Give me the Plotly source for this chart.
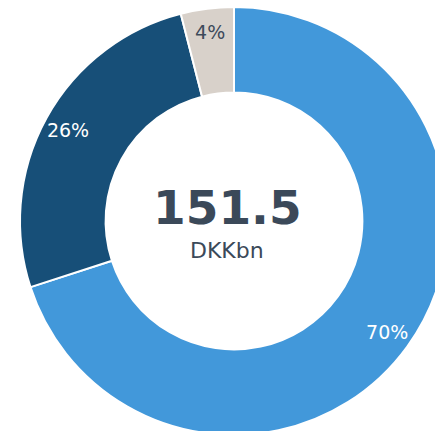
import plotly.graph_objects as go

categories = ["Segment A", "Segment B", "Segment C"]
shares = [70, 26, 4]
total_label = "151.5"
unit_label = "DKKbn"
colors = ["#4298da", "#174f78", "#d8d1ca"]
text_colors = ["#ffffff", "#ffffff", "#3d4a5a"]

W, H = 468, 442
cx, cy, R = 234, 221, 214

dom_x = [(cx - R) / W, (cx + R) / W]
dom_y = [1 - (cy + R) / H, 1 - (cy - R) / H]

fig = go.Figure()
fig.add_trace(go.Pie(
    labels=categories, values=shares, sort=False, direction="clockwise",
    rotation=0, hole=0.60, domain=dict(x=dom_x, y=dom_y),
    marker=dict(colors=colors, line=dict(color="#ffffff", width=2)),
    textinfo="none", hoverinfo="skip", showlegend=False,
))
fig.add_trace(go.Pie(
    labels=categories, values=shares, sort=False, direction="clockwise",
    rotation=0, hole=0.77, domain=dict(x=dom_x, y=dom_y),
    marker=dict(colors=["rgba(0,0,0,0)"] * 3, line=dict(width=0)),
    textinfo="percent", textposition="inside", insidetextorientation="horizontal",
    textfont=dict(family="DejaVu Sans", size=19, color=text_colors),
    hoverinfo="skip", showlegend=False,
))
fig.update_layout(
    width=W, height=H, margin=dict(l=0, r=0, t=0, b=0),
    paper_bgcolor="#ffffff", plot_bgcolor="#ffffff",
    uniformtext=dict(minsize=19, mode="show"),
    annotations=[
        dict(text="<b>" + total_label + "</b>", x=227 / W, y=1 - 207 / H, xref="paper", yref="paper",
             showarrow=False, font=dict(family="DejaVu Sans", size=47, color="#3b4959")),
        dict(text=unit_label, x=227 / W, y=1 - 250 / H, xref="paper", yref="paper",
             showarrow=False, font=dict(family="DejaVu Sans", size=22, color="#3b4959")),
    ],
)
fig.write_html("out.html", config={"displayModeBar": False},
               post_script="document.body.style.margin='0';document.body.style.overflow='hidden';document.documentElement.style.overflow='hidden';")
